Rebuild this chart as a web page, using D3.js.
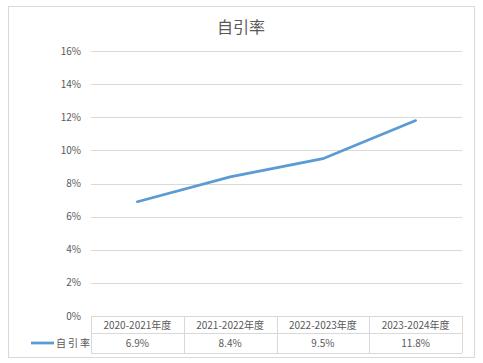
<!DOCTYPE html>
<html>
<head>
<meta charset="utf-8">
<script src="https://cdn.jsdelivr.net/npm/d3@7"></script>
<style>
  body { margin: 0; background: #fff; }
  text { font-family: "Noto Sans CJK SC", "Liberation Sans", sans-serif; fill: #595959; }
</style>
</head>
<body>
<div id="chart-area"></div>
<script>
var categories = ["2020-2021年度", "2021-2022年度", "2022-2023年度", "2023-2024年度"];
var values = [6.9, 8.4, 9.5, 11.8];
var valueLabels = ["6.9%", "8.4%", "9.5%", "11.8%"];
var yTicks = [0, 2, 4, 6, 8, 10, 12, 14, 16];
var seriesName = "自引率";

var W = 483, H = 363;
var plot = {left: 91, right: 462, top: 51, bottom: 316};
var rowH = 17, rowH2 = 20;
var lineColor = "#5b9bd5";
var gridColor = "#d9d9d9";

var svg = d3.select("#chart-area")
    .append("svg")
    .attr("width", W)
    .attr("height", H);

// outer frame
svg.append("rect")
    .attr("x", 8.5).attr("y", 6.5)
    .attr("width", 466).attr("height", 351)
    .attr("fill", "#fff")
    .attr("stroke", gridColor);

svg.append("text")
    .attr("x", 241).attr("y", 33)
    .attr("text-anchor", "middle")
    .attr("font-size", "16px")
    .text("自引率");

var x = d3.scaleBand()
    .domain(categories)
    .range([plot.left, plot.right])
    .padding(0);

var y = d3.scaleLinear()
    .domain([0, 16])
    .range([plot.bottom, plot.top]);

// gridlines
svg.append("g").selectAll("line")
    .data(yTicks)
    .enter().append("line")
    .attr("x1", plot.left).attr("x2", plot.right)
    .attr("y1", (d) => Math.round(y(d)) + 0.5)
    .attr("y2", (d) => Math.round(y(d)) + 0.5)
    .attr("stroke", gridColor);

// y tick labels
svg.append("g").selectAll("text")
    .data(yTicks)
    .enter().append("text")
    .attr("x", 81)
    .attr("y", (d) => y(d) + 3.5)
    .attr("text-anchor", "end")
    .attr("font-size", "10px")
    .text((d) => d + "%");

// line
var line = d3.line()
    .x((d, i) => x(categories[i]) + x.bandwidth() / 2)
    .y((d) => y(d));

svg.append("path")
    .datum(values)
    .attr("d", line)
    .attr("fill", "none")
    .attr("stroke", lineColor)
    .attr("stroke-width", 2.75)
    .attr("stroke-linecap", "round");

// data table
var t0 = plot.bottom, t1 = t0 + rowH, t2 = t1 + rowH2;
var tg = svg.append("g").attr("stroke", gridColor).attr("shape-rendering", "crispEdges");
tg.append("line").attr("x1", plot.left).attr("x2", plot.right).attr("y1", t1 + 0.5).attr("y2", t1 + 0.5);
tg.append("line").attr("x1", plot.left).attr("x2", plot.right).attr("y1", t2 + 0.5).attr("y2", t2 + 0.5);
tg.selectAll("line.v")
    .data(categories.concat(["end"]))
    .enter().append("line")
    .attr("class", "v")
    .attr("x1", (d, i) => Math.round(plot.left + i * x.bandwidth()) + 0.5)
    .attr("x2", (d, i) => Math.round(plot.left + i * x.bandwidth()) + 0.5)
    .attr("y1", t0).attr("y2", t2);

svg.append("g").selectAll("text")
    .data(categories)
    .enter().append("text")
    .attr("x", (d) => x(d) + x.bandwidth() / 2)
    .attr("y", t0 + 12.5)
    .attr("text-anchor", "middle")
    .attr("font-size", "10px")
    .text((d) => d);

svg.append("g").selectAll("text")
    .data(valueLabels)
    .enter().append("text")
    .attr("x", (d, i) => x(categories[i]) + x.bandwidth() / 2)
    .attr("y", t1 + 14)
    .attr("text-anchor", "middle")
    .attr("font-size", "10px")
    .text((d) => d);

// legend key
svg.append("line")
    .attr("x1", 31).attr("x2", 54)
    .attr("y1", t1 + 10).attr("y2", t1 + 10)
    .attr("stroke", lineColor)
    .attr("stroke-width", 2.75);

svg.append("text")
    .attr("x", 56).attr("y", t1 + 14)
    .attr("font-size", "10px")
    .attr("letter-spacing", "2px")
    .text(seriesName);
</script>
</body>
</html>
